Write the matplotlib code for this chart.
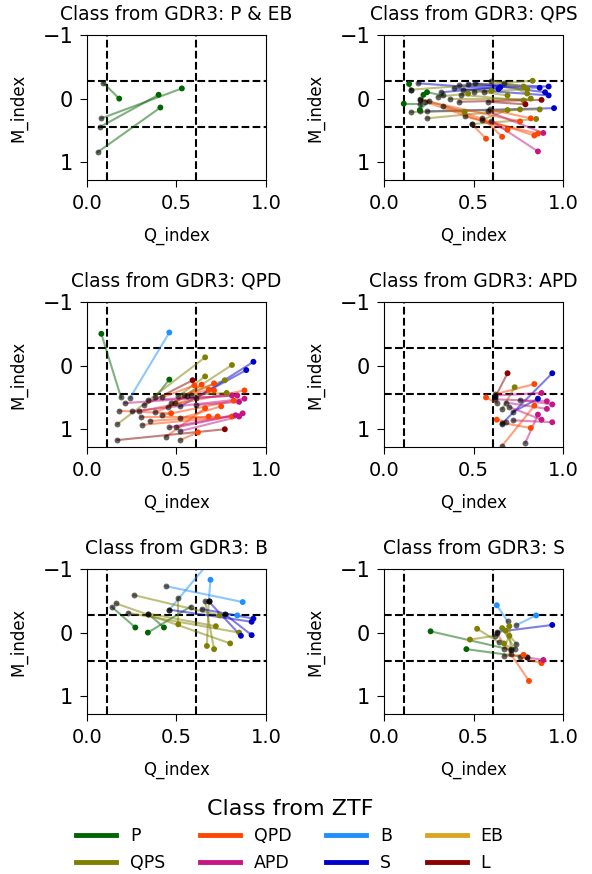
import matplotlib

matplotlib.use("Agg")
import matplotlib.pyplot as plt
from matplotlib.lines import Line2D

# ZTF class colours (legend order)
ztf_classes = ["P", "QPS", "QPD", "APD", "B", "S", "EB", "L"]
ztf_colors = ["darkgreen", "olive", "orangered", "mediumvioletred",
              "dodgerblue", "mediumblue", "goldenrod", "darkred"]
color_of = dict(zip(ztf_classes, ztf_colors))

titles = ["P & EB", "QPS", "QPD", "APD", "B", "S"]

# thresholds
q_lines = [0.11, 0.61]
m_lines = [-0.28, 0.44]

# Gaia DR3 class: P & EB
pe_gaia_q = [0.09, 0.08, 0.07, 0.06]
pe_gaia_m = [-0.25, 0.31, 0.45, 0.84]
pe_ztf_q = [0.18, 0.53, 0.40, 0.41]
pe_ztf_m = [0.00, -0.16, -0.06, 0.14]
pe_ztf_cls = ["P", "P", "P", "P"]

# Gaia DR3 class: QPS
qps_gaia_q = [0.19, 0.42, 0.47, 0.51, 0.39, 0.24, 0.15, 0.60, 0.67, 0.37,
              0.43, 0.15, 0.24, 0.55, 0.49, 0.20, 0.56, 0.30, 0.50, 0.44,
              0.42, 0.58, 0.20, 0.15, 0.20, 0.33, 0.25, 0.49, 0.55, 0.23,
              0.20, 0.59, 0.33, 0.45, 0.58, 0.60, 0.32]
qps_gaia_m = [-0.24, -0.21, -0.23, -0.24, -0.16, 0.20, -0.14, -0.28, -0.24, 0.00,
              -0.06, 0.21, 0.31, 0.33, 0.40, 0.00, -0.10, -0.03, -0.10, -0.13,
              0.05, 0.05, 0.08, -0.14, 0.20, -0.05, 0.03, 0.40, 0.30, 0.05,
              0.02, 0.17, 0.12, 0.28, 0.20, 0.35, -0.10]
qps_ztf_q = [0.64, 0.87, 0.92, 0.90, 0.92, 0.95, 0.83, 0.78, 0.80, 0.82,
             0.78, 0.87, 0.76, 0.69, 0.85, 0.45, 0.69, 0.47, 0.80, 0.60,
             0.88, 0.79, 0.11, 0.14, 0.22, 0.24, 0.20, 0.57, 0.66, 0.69,
             0.76, 0.82, 0.84, 0.86, 0.89, 0.86, 0.65]
qps_ztf_m = [-0.15, -0.17, -0.19, -0.10, -0.05, 0.15, -0.28, -0.19, -0.08, 0.00,
             0.03, 0.17, 0.17, 0.18, 0.32, 0.21, -0.05, -0.08, -0.15, -0.12,
             0.02, 0.09, 0.08, -0.23, -0.06, -0.10, 0.18, 0.63, 0.60, 0.49,
             0.36, 0.31, 0.58, 0.55, 0.54, 0.83, -0.18]
qps_ztf_cls = ["S", "S", "S", "S", "S", "S", "QPS", "QPS", "QPS", "QPS",
               "QPS", "QPS", "QPS", "QPS", "QPS", "QPS", "QPS", "QPS", "QPS", "QPS",
               "L", "L", "P", "P", "P", "P", "P", "QPD", "QPD", "QPD",
               "QPD", "QPD", "QPD", "QPD", "APD", "APD", "S"]

# Gaia DR3 class: QPD
qpd_gaia_q = [0.19, 0.24, 0.38, 0.32, 0.17, 0.45, 0.51, 0.54, 0.58, 0.61,
              0.52, 0.49, 0.47, 0.38, 0.29, 0.42, 0.52, 0.44, 0.18, 0.30,
              0.35, 0.31, 0.52, 0.17, 0.21, 0.34, 0.61, 0.25, 0.50, 0.46,
              0.52, 0.42, 0.56]
qpd_gaia_m = [0.50, 0.51, 0.50, 0.62, 0.92, 0.65, 0.48, 0.46, 0.46, 0.51,
              0.64, 0.59, 0.59, 0.73, 0.72, 0.78, 0.83, 1.12, 0.71, 0.80,
              0.87, 0.93, 1.17, 1.17, 0.59, 0.54, 0.62, 0.72, 0.97, 0.97,
              1.03, 0.50, 0.47]
qpd_ztf_q = [0.08, 0.46, 0.46, 0.59, 0.66, 0.81, 0.66, 0.77, 0.78, 0.93,
             0.89, 0.64, 0.71, 0.71, 0.88, 0.82, 0.75, 0.66, 0.47, 0.68,
             0.73, 0.81, 0.62, 0.77, 0.81, 0.84, 0.85, 0.88, 0.83, 0.87,
             0.85, 0.60, 0.68]
qpd_ztf_m = [-0.50, -0.52, 0.22, 0.23, -0.13, -0.01, 0.17, 0.23, 0.43, -0.06,
             0.07, 0.30, 0.28, 0.39, 0.39, 0.55, 0.64, 0.67, 0.75, 0.80,
             0.80, 0.80, 1.05, 1.00, 0.47, 0.47, 0.57, 0.52, 0.78, 0.75,
             0.80, 0.31, 0.38]
qpd_ztf_cls = ["P", "B", "P", "L", "QPS", "QPS", "QPS", "QPS", "QPS", "S",
               "S", "QPD", "QPD", "QPD", "QPD", "QPD", "QPD", "QPD", "QPD", "QPD",
               "QPD", "QPD", "QPD", "L", "APD", "APD", "APD", "APD", "APD", "APD",
               "APD", "QPD", "QPD"]

# Gaia DR3 class: APD
apd_gaia_q = [0.62, 0.66, 0.62, 0.66, 0.72, 0.63, 0.62, 0.62, 0.76, 0.68,
              0.79, 0.70, 0.72, 0.68, 0.66, 0.66]
apd_gaia_m = [0.50, 0.68, 0.45, 0.91, 0.73, 0.59, 0.47, 0.53, 0.54, 0.58,
              1.21, 0.65, 0.86, 0.88, 0.90, 1.26]
apd_ztf_q = [0.69, 0.73, 0.84, 0.94, 0.86, 0.57, 0.88, 0.91, 0.94, 0.91,
             0.86, 0.88, 0.94, 0.63, 0.82, 0.84]
apd_ztf_m = [0.12, 0.34, 0.29, 0.12, 0.52, 0.50, 0.43, 0.56, 0.61, 0.68,
             0.77, 0.85, 0.89, 0.85, 0.98, 0.63]
apd_ztf_cls = ["L", "QPS", "QPD", "S", "S", "QPD", "APD", "APD", "APD", "APD",
               "APD", "APD", "APD", "QPD", "QPD", "QPD"]

# Gaia DR3 class: B
b_gaia_q = [0.14, 0.34, 0.58, 0.44, 0.46, 0.68, 0.77, 0.16, 0.26, 0.23,
            0.51, 0.68, 0.66, 0.34, 0.64, 0.68, 0.46, 0.77]
b_gaia_m = [-0.40, -0.30, -0.41, -0.73, -0.36, -0.49, -0.29, -0.46, -0.59, -0.31,
            -0.54, -0.49, -0.49, -0.30, -0.37, -0.49, -0.36, -0.29]
b_ztf_q = [0.27, 0.43, 0.34, 0.87, 0.74, 0.69, 0.84, 0.80, 0.74, 0.85,
           0.51, 0.67, 0.71, 0.72, 0.93, 0.86, 0.92, 0.92]
b_ztf_m = [-0.08, -0.08, 0.00, -0.48, -1.30, -0.83, -0.27, 0.17, -0.27, 0.00,
           -0.13, 0.21, 0.26, -0.10, -0.22, 0.05, -0.17, 0.04]
b_ztf_cls = ["P", "P", "P", "B", "B", "B", "B", "QPS", "QPS", "QPS",
             "QPS", "QPS", "QPS", "QPS", "S", "S", "S", "S"]

# Gaia DR3 class: S
s_gaia_q = [0.69, 0.74, 0.63, 0.71, 0.80, 0.64, 0.62, 0.73, 0.71, 0.74,
            0.67, 0.71, 0.63, 0.67, 0.76, 0.80]
s_gaia_m = [-0.18, -0.12, -0.01, 0.27, 0.39, 0.15, 0.05, 0.25, 0.34, 0.18,
            0.25, 0.25, 0.01, 0.37, 0.39, 0.39]
s_ztf_q = [0.63, 0.85, 0.94, 0.26, 0.46, 0.52, 0.48, 0.66, 0.70, 0.68,
           0.70, 0.67, 0.81, 0.78, 0.88, 0.89]
s_ztf_m = [-0.43, -0.27, -0.12, -0.02, 0.26, -0.06, 0.11, -0.07, -0.10, -0.03,
           0.05, 0.17, 0.76, 0.35, 0.48, 0.43]
s_ztf_cls = ["B", "B", "S", "P", "P", "QPS", "QPS", "QPS", "QPS", "QPS",
             "QPS", "QPS", "QPD", "QPD", "QPD", "APD"]

panels = [
    (pe_gaia_q, pe_gaia_m, pe_ztf_q, pe_ztf_m, pe_ztf_cls),
    (qps_gaia_q, qps_gaia_m, qps_ztf_q, qps_ztf_m, qps_ztf_cls),
    (qpd_gaia_q, qpd_gaia_m, qpd_ztf_q, qpd_ztf_m, qpd_ztf_cls),
    (apd_gaia_q, apd_gaia_m, apd_ztf_q, apd_ztf_m, apd_ztf_cls),
    (b_gaia_q, b_gaia_m, b_ztf_q, b_ztf_m, b_ztf_cls),
    (s_gaia_q, s_gaia_m, s_ztf_q, s_ztf_m, s_ztf_cls),
]

fig, axes = plt.subplots(3, 2, figsize=(5.92, 8.74), dpi=100)
plt.subplots_adjust(left=0.147, right=0.951, top=0.96, bottom=0.183,
                    wspace=0.66, hspace=0.84)

for ax, title, (gq, gm, zq, zm, cls) in zip(axes.flat, titles, panels):
    for i in range(len(gq)):
        ax.plot([gq[i], zq[i]], [gm[i], zm[i]], color=color_of[cls[i]],
                alpha=0.5, lw=1.5, zorder=2)
    ax.scatter(gq, gm, color="k", alpha=0.6, s=18, lw=0, zorder=3)
    ax.scatter(zq, zm, color=[color_of[c] for c in cls], s=18, lw=0, zorder=4)

    for q in q_lines:
        ax.axvline(q, color="k", ls="--", lw=1.5, zorder=1)
    for m in m_lines:
        ax.axhline(m, color="k", ls="--", lw=1.5, zorder=1)

    ax.set_xlim(0, 1)
    ax.set_ylim(1.28, -1)
    ax.set_xticks([0, 0.5, 1.0])
    ax.set_yticks([-1, 0, 1])
    ax.tick_params(labelsize=14, length=5, pad=5)
    ax.tick_params(axis="y", labelsize=15)
    ax.set_xlabel("Q_index", fontsize=12, labelpad=10)
    ax.set_ylabel("M_index", fontsize=12, labelpad=11)
    ax.set_title(f"Class from GDR3: {title}", fontsize=13.4, pad=11)

handles = [Line2D([0], [0], color=c, lw=3.5) for c in ztf_colors]
fig.legend(handles, ztf_classes, loc="upper center", bbox_to_anchor=(0.49, 0.104),
           ncol=4, frameon=False, fontsize=12.5, title="Class from ZTF",
           title_fontsize=16, handlelength=2.3, columnspacing=2.0)

plt.savefig("out.png", dpi=100)
plt.close()
